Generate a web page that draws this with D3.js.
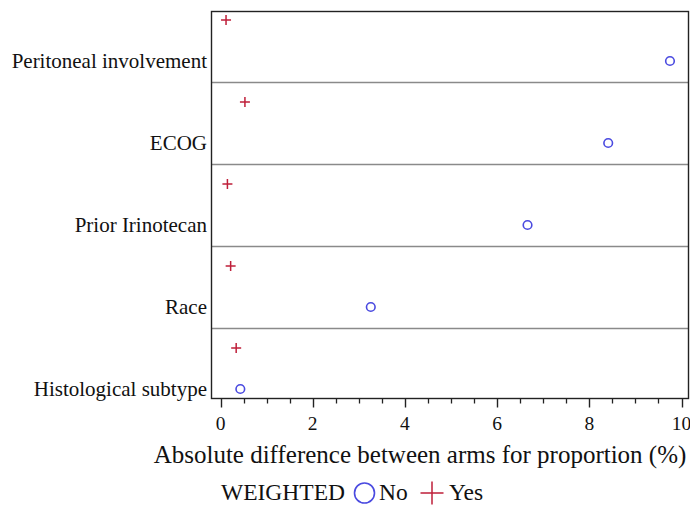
<!DOCTYPE html>
<html>
<head>
<meta charset="utf-8">
<script src="https://cdn.jsdelivr.net/npm/d3@7"></script>
<style>
  html, body { margin: 0; padding: 0; background: #fff; }
  svg { display: block; font-family: "Liberation Serif", "Times New Roman", serif; }
</style>
</head>
<body>
<svg id="chart" width="690" height="506"></svg>
<script>
// Covariates, top to bottom
const categories = ["Peritoneal involvement", "ECOG", "Prior Irinotecan", "Race", "Histological subtype"];
// Absolute difference between arms (%), unweighted and weighted
const unweighted = [9.75, 8.41, 6.66, 3.26, 0.43];
const weighted   = [0.12, 0.53, 0.15, 0.22, 0.34];
const xTicks = [0, 2, 4, 6, 8, 10];
const groups = ["No", "Yes"];

const svg = d3.select("#chart");
const frame = { left: 211.5, right: 688.5, top: 11.5, bottom: 398.5 };

const x = d3.scaleLinear().domain([0, 10]).range([220.5, 681.5]);
const y = d3.scaleBand().domain(categories).range([-0.5, 409.5]).paddingInner(0).paddingOuter(0);
// cluster offsets within each category band
const offset = d3.scaleBand().domain(["Yes", "No"]).range([0, y.bandwidth()]);

const blue = "#4a4ae0";
const red = "#bf1f3a";

// band separators
svg.append("g").selectAll("line")
  .data(categories.slice(0, -1))
  .join("line")
  .attr("x1", frame.left).attr("x2", frame.right)
  .attr("y1", d => Math.round(y(d) + y.bandwidth()) + 0.5)
  .attr("y2", d => Math.round(y(d) + y.bandwidth()) + 0.5)
  .attr("stroke", "#8a8a8a").attr("stroke-width", 1.3);

// frame
svg.append("rect")
  .attr("x", frame.left).attr("y", frame.top)
  .attr("width", frame.right - frame.left).attr("height", frame.bottom - frame.top)
  .attr("fill", "none").attr("stroke", "#222").attr("stroke-width", 1.4);

// category labels at the unweighted marker row
svg.append("g").selectAll("text")
  .data(categories)
  .join("text")
  .attr("x", 207)
  .attr("y", d => y(d) + offset("No") + offset.bandwidth() / 2)
  .attr("dy", "0.33em")
  .attr("text-anchor", "end")
  .attr("font-size", 21)
  .attr("fill", "#111")
  .text(d => d);

// x axis with minor ticks
const axis = svg.append("g").attr("transform", `translate(0,${frame.bottom})`);
const minor = d3.range(0, 10.01, 0.5).filter(v => !xTicks.includes(v));
axis.selectAll("line.minor").data(minor).join("line")
  .attr("class", "minor")
  .attr("x1", d => Math.round(x(d)) + 0.5).attr("x2", d => Math.round(x(d)) + 0.5)
  .attr("y1", 0).attr("y2", 5)
  .attr("stroke", "#222").attr("stroke-width", 1.3);
axis.selectAll("line.major").data(xTicks).join("line")
  .attr("class", "major")
  .attr("x1", d => Math.round(x(d)) + 0.5).attr("x2", d => Math.round(x(d)) + 0.5)
  .attr("y1", 0).attr("y2", 9)
  .attr("stroke", "#222").attr("stroke-width", 1.4);
axis.selectAll("text").data(xTicks).join("text")
  .attr("x", d => x(d)).attr("y", 31)
  .attr("text-anchor", "middle")
  .attr("font-size", 19.5)
  .attr("fill", "#111")
  .text(d => d);

// x axis title
svg.append("text")
  .attr("x", 420).attr("y", 463)
  .attr("text-anchor", "middle")
  .attr("font-size", 25)
  .attr("fill", "#111")
  .text("Absolute difference between arms for proportion (%)");

// unweighted markers: open circles
svg.append("g").selectAll("circle")
  .data(categories.map((c, i) => ({ c, v: unweighted[i] })))
  .join("circle")
  .attr("cx", d => x(d.v))
  .attr("cy", d => y(d.c) + offset("No") + offset.bandwidth() / 2)
  .attr("r", 4.3)
  .attr("fill", "none").attr("stroke", blue).attr("stroke-width", 1.6);

// weighted markers: plus signs
svg.append("g").selectAll("path")
  .data(categories.map((c, i) => ({ c, v: weighted[i] })))
  .join("path")
  .attr("transform", d => `translate(${x(d.v)},${y(d.c) + offset("Yes") + offset.bandwidth() / 2})`)
  .attr("d", "M-5,0H5M0,-5V5")
  .attr("fill", "none").attr("stroke", red).attr("stroke-width", 1.5);

// legend
const legend = svg.append("g").attr("transform", "translate(0,500)");
legend.append("text").attr("x", 221).attr("y", 0)
  .attr("font-size", 23.5).attr("fill", "#111").text("WEIGHTED");
legend.append("circle").attr("cx", 364.5).attr("cy", -7).attr("r", 10)
  .attr("fill", "none").attr("stroke", blue).attr("stroke-width", 1.6);
legend.append("text").attr("x", 379).attr("y", 0)
  .attr("font-size", 23.5).attr("fill", "#111").text(groups[0]);
legend.append("path").attr("transform", "translate(432,-7)")
  .attr("d", "M-11.5,0H11.5M0,-11.5V11.5")
  .attr("fill", "none").attr("stroke", red).attr("stroke-width", 1.5);
legend.append("text").attr("x", 449).attr("y", 0)
  .attr("font-size", 23.5).attr("fill", "#111").text(groups[1]);
</script>
</body>
</html>
